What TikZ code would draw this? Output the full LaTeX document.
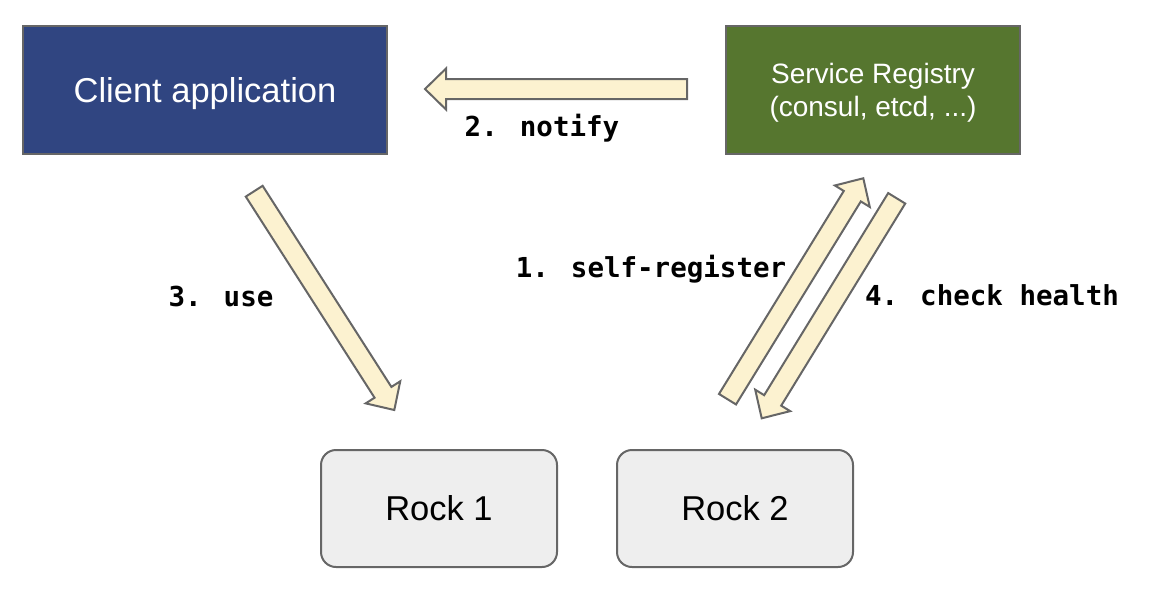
\documentclass[tikz,border=0pt]{standalone}
\usepackage{fontspec}
\setmainfont{Liberation Sans}
\newfontfamily\codefont{DejaVu Sans Mono}
\usetikzlibrary{calc}
\definecolor{clientblue}{HTML}{304581}
\definecolor{regreen}{HTML}{56762F}
\definecolor{rockgrey}{HTML}{EEEEEE}
\definecolor{edgegrey}{HTML}{666666}
\definecolor{arrowfill}{HTML}{FCF2D0}
\tikzset{
  boxbase/.style={draw=edgegrey, line width=2pt, inner sep=0pt, anchor=north west},
  clientbox/.style={boxbase, fill=clientblue, text=white, text depth=0pt, font=\fontsize{34.5}{40}\selectfont},
  regbox/.style={boxbase, fill=regreen, text=white, align=center, text depth=0pt, font=\fontsize{28}{32.5}\selectfont},
  rockbox/.style={boxbase, fill=rockgrey, rounded corners=15pt, font=\fontsize{34.5}{40}\selectfont},
  steplabel/.style={font=\codefont\bfseries\fontsize{27.5}{32}\selectfont, inner sep=0pt},
  blockarrow/.style={draw=edgegrey, fill=arrowfill, line width=2pt, line join=miter}
}
\newcommand{\myblockarrow}[2]{%
  \coordinate (hb) at ($(#2)!21pt!(#1)$);
  \draw[blockarrow] ($(#1)!10pt!90:(#2)$) -- ($(hb)!10pt!-90:(#1)$) -- ($(hb)!20.5pt!-90:(#1)$)
    -- (#2) -- ($(hb)!20.5pt!90:(#1)$) -- ($(hb)!10pt!90:(#1)$) -- ($(#1)!10pt!-90:(#2)$) -- cycle;
}
\begin{document}
\begin{tikzpicture}[x=1pt,y=-1pt]
\useasboundingbox (0,0) rectangle (1150,598);
\node[clientbox, minimum width=364pt, minimum height=128pt] (client) at (22,25) {Client application};
\node[regbox, minimum width=294pt, minimum height=128pt] (reg) at (725,25) {Service Registry\\(consul, etcd, ...)};
\node[rockbox, minimum width=236pt, minimum height=117pt] (rock1) at (320,449) {Rock 1};
\node[rockbox, minimum width=236pt, minimum height=117pt] (rock2) at (616,449) {Rock 2};

\coordinate (notifyS) at (687,89);
\coordinate (notifyE) at (425,89);
\coordinate (useS) at (254.2,191.2);
\coordinate (useE) at (394.3,410);
\coordinate (regS) at (727.5,399.2);
\coordinate (regE) at (863.3,178.3);
\coordinate (healthS) at (896.7,198.3);
\coordinate (healthE) at (761.7,418.3);

\myblockarrow{notifyS}{notifyE}
\myblockarrow{useS}{useE}
\myblockarrow{regS}{regE}
\myblockarrow{healthS}{healthE}

\node[steplabel] (lnotify) at (542,128) {2. notify};
\node[steplabel] (luse) at (221,296) {3. use};
\node[steplabel] (lreg) at (651,269) {1. self-register};
\node[steplabel] (lhealth) at (992,295) {4. check health};
\end{tikzpicture}
\end{document}
